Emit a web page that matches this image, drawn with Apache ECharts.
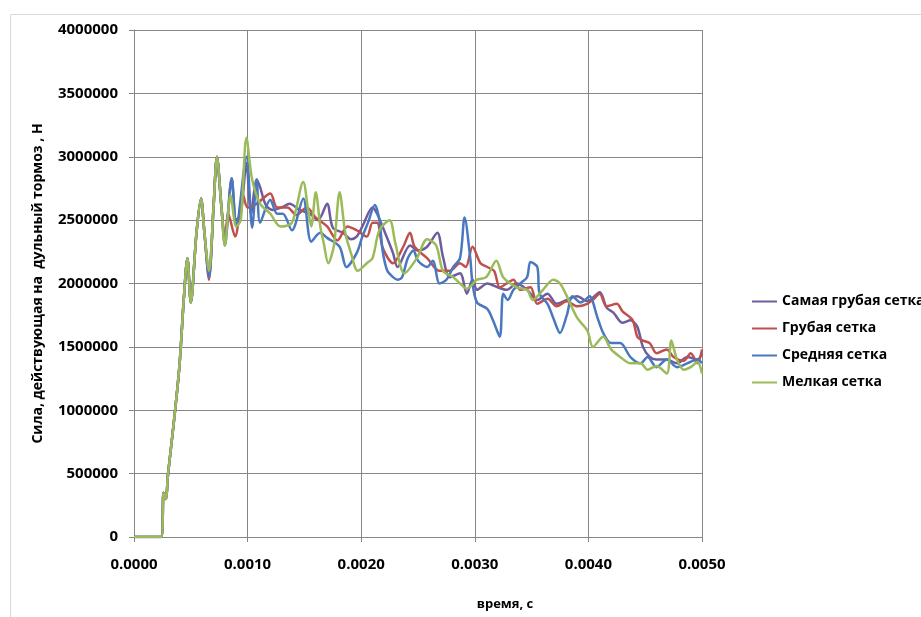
<!DOCTYPE html>
<html>
<head>
<meta charset="utf-8">
<script src="https://cdn.jsdelivr.net/npm/echarts@6/dist/echarts.min.js"></script>
<style>
html,body{margin:0;padding:0;background:#fff;}
#chart{width:921px;height:617px;}
</style>
</head>
<body>
<div id="chart"></div>
<script>
// ---- data (time in s, force in N) ----
var seriesNames = ['Самая грубая сетка', 'Грубая сетка', 'Средняя сетка', 'Мелкая сетка'];
var xTicks = [0, 0.001, 0.002, 0.003, 0.004, 0.005];
var yTicks = [0, 500000, 1000000, 1500000, 2000000, 2500000, 3000000, 3500000, 4000000];

var riseCommon = [
  [0,0],[0.00024,0],[0.00026,350000],[0.00028,300000],[0.0003,500000],[0.00035,900000],
  [0.0004,1350000],[0.00044,1900000],[0.00047,2200000],[0.0005,1850000],[0.00055,2400000],
  [0.00059,2670000],[0.00062,2400000]
];

var samayaGrubaya = [
  [0.00066,2060000],[0.0007,2600000],[0.00073,3000000],[0.00077,2600000],[0.0008,2350000],
  [0.00086,2830000],[0.0009,2500000],[0.00094,2550000],[0.00099,2950000],[0.00103,2550000],
  [0.00108,2820000],[0.00111,2760000],[0.00116,2620000],[0.00122,2580000],[0.0013,2600000],
  [0.00137,2630000],[0.00146,2580000],[0.00155,2550000],[0.00162,2500000],[0.0017,2630000],
  [0.00175,2440000],[0.00184,2400000],[0.00191,2350000],[0.00196,2370000],[0.00201,2450000],
  [0.0021,2600000],[0.00214,2550000],[0.00221,2400000],[0.00228,2240000],[0.00232,2130000],
  [0.00243,2300000],[0.0025,2260000],[0.00258,2290000],[0.00267,2400000],[0.00272,2210000],
  [0.00278,2050000],[0.00287,2080000],[0.00293,1920000],[0.00298,2030000],[0.00302,1950000],
  [0.00311,2000000],[0.0032,1970000],[0.00328,1950000],[0.00337,2000000],[0.00346,1950000],
  [0.00355,1870000],[0.00364,1920000],[0.00372,1840000],[0.00381,1870000],[0.0039,1900000],
  [0.00399,1860000],[0.0041,1930000],[0.00416,1810000],[0.00422,1770000],[0.0043,1690000],
  [0.00437,1710000],[0.00443,1660000],[0.00448,1500000],[0.00454,1420000],[0.0046,1400000],
  [0.00469,1400000],[0.00478,1370000],[0.00487,1420000],[0.00496,1400000],[0.005,1450000]
];

var grubaya = [
  [0.00066,2030000],[0.0007,2600000],[0.00073,3000000],[0.00077,2600000],[0.0008,2330000],
  [0.00083,2550000],[0.00089,2370000],[0.00096,2700000],[0.001,2600000],[0.00108,2630000],
  [0.0012,2710000],[0.00126,2600000],[0.00135,2600000],[0.00143,2540000],[0.00152,2600000],
  [0.0016,2520000],[0.0017,2450000],[0.00179,2340000],[0.00188,2450000],[0.00196,2420000],
  [0.00205,2370000],[0.0021,2480000],[0.00214,2480000],[0.00219,2280000],[0.00228,2160000],
  [0.00237,2290000],[0.00243,2400000],[0.00247,2290000],[0.00258,2200000],[0.00269,2100000],
  [0.00278,2100000],[0.00287,2160000],[0.00292,2130000],[0.00298,2290000],[0.00305,2160000],
  [0.00311,2130000],[0.00317,2100000],[0.00322,1970000],[0.00328,2000000],[0.00334,2030000],
  [0.0034,1950000],[0.00349,1970000],[0.00355,1840000],[0.00364,1880000],[0.00372,1820000],
  [0.00381,1860000],[0.0039,1820000],[0.00399,1840000],[0.00405,1880000],[0.0041,1920000],
  [0.00416,1820000],[0.00425,1840000],[0.0043,1780000],[0.00439,1710000],[0.00443,1580000],
  [0.00448,1550000],[0.00454,1530000],[0.0046,1450000],[0.00469,1480000],[0.00475,1420000],
  [0.00484,1390000],[0.0049,1450000],[0.00496,1370000],[0.005,1480000]
];

var srednyaya = [
  [0.00066,2050000],[0.0007,2600000],[0.00073,3000000],[0.00077,2600000],[0.0008,2300000],
  [0.00086,2830000],[0.0009,2450000],[0.00099,3000000],[0.00104,2440000],[0.00108,2820000],
  [0.00111,2480000],[0.0012,2660000],[0.00126,2550000],[0.00131,2550000],[0.00139,2420000],
  [0.00149,2670000],[0.00156,2330000],[0.00164,2400000],[0.0017,2360000],[0.00181,2290000],
  [0.00187,2130000],[0.00196,2240000],[0.00201,2370000],[0.00206,2480000],[0.00212,2620000],
  [0.00216,2500000],[0.00219,2250000],[0.00223,2100000],[0.00228,2050000],[0.00232,2030000],
  [0.00236,2050000],[0.00241,2200000],[0.00246,2260000],[0.0025,2180000],[0.00258,2130000],
  [0.00263,2180000],[0.00269,2000000],[0.00275,2030000],[0.00281,2130000],[0.00287,2200000],
  [0.00291,2520000],[0.00296,2200000],[0.00298,2000000],[0.00302,1850000],[0.00311,1800000],
  [0.00316,1710000],[0.00322,1580000],[0.00325,1920000],[0.00329,1870000],[0.00334,1950000],
  [0.0034,2000000],[0.00346,2050000],[0.00349,2170000],[0.00355,2130000],[0.00357,1920000],
  [0.00364,1840000],[0.00369,1730000],[0.00375,1610000],[0.00381,1750000],[0.00386,1900000],
  [0.00393,1850000],[0.00397,1870000],[0.00401,1900000],[0.00408,1730000],[0.00413,1610000],
  [0.0042,1530000],[0.00428,1530000],[0.00437,1420000],[0.00446,1370000],[0.00452,1420000],
  [0.0046,1340000],[0.00469,1400000],[0.00478,1340000],[0.00487,1370000],[0.00496,1400000],
  [0.005,1370000]
];

var melkaya = [
  [0.00066,2100000],[0.0007,2600000],[0.00073,3000000],[0.00077,2600000],[0.0008,2300000],
  [0.00085,2700000],[0.0009,2450000],[0.00094,2500000],[0.00099,3150000],[0.00104,2820000],
  [0.00111,2630000],[0.0012,2550000],[0.00129,2450000],[0.00139,2480000],[0.00149,2800000],
  [0.00153,2600000],[0.00156,2450000],[0.0016,2720000],[0.00164,2450000],[0.00167,2320000],
  [0.00171,2160000],[0.00176,2300000],[0.00181,2720000],[0.00186,2400000],[0.00191,2240000],
  [0.00197,2100000],[0.00205,2160000],[0.0021,2200000],[0.00216,2420000],[0.00225,2500000],
  [0.0023,2320000],[0.00238,2080000],[0.00249,2200000],[0.00258,2350000],[0.00266,2300000],
  [0.00272,2100000],[0.00281,2050000],[0.00287,2000000],[0.00293,1960000],[0.00302,2030000],
  [0.0031,2050000],[0.00319,2180000],[0.00325,2050000],[0.00337,1970000],[0.00346,1950000],
  [0.00351,1870000],[0.0036,1950000],[0.00369,2030000],[0.00375,2000000],[0.00381,1900000],
  [0.0039,1730000],[0.00399,1630000],[0.00404,1500000],[0.00413,1580000],[0.0042,1480000],
  [0.00428,1420000],[0.00437,1370000],[0.00446,1370000],[0.00452,1320000],[0.0046,1350000],
  [0.00469,1290000],[0.00473,1550000],[0.00478,1400000],[0.00484,1320000],[0.0049,1340000],
  [0.00496,1380000],[0.005,1290000]
];

var seriesData = [samayaGrubaya, grubaya, srednyaya, melkaya].map(function (d) {
  return riseCommon.concat(d);
});
var colors = ['#6E5C9E', '#C0504D', '#4A78C0', '#9BBB59'];

var FONT = '"Open Sans", "DejaVu Sans", sans-serif';
var chart = echarts.init(document.getElementById('chart'), null, {renderer: 'canvas'});
chart.setOption({
  animation: false,
  backgroundColor: '#ffffff',
  color: colors,
  graphic: [{
    type: 'rect', left: 8, top: 12, silent: true,
    shape: {width: 1000, height: 700},
    style: {fill: 'none', stroke: '#D9D9D9', lineWidth: 1}
  }],
  grid: {left: 134, right: 219, top: 30, bottom: 80, containLabel: false},
  legend: {
    orient: 'vertical', left: 747, top: 288,
    itemWidth: 25, itemHeight: 2, itemGap: 10,
    icon: 'rect',
    textStyle: {fontFamily: FONT, fontWeight: 'bold', fontSize: 14, color: '#000', lineHeight: 17},
    data: seriesNames
  },
  xAxis: {
    type: 'value', min: 0, max: 0.005, interval: 0.001,
    name: 'время, с', nameLocation: 'middle', nameGap: 61,
    nameTextStyle: {fontFamily: FONT, fontWeight: 'bold', fontSize: 13, color: '#000', padding: [0, 0, 0, 174]},
    axisLine: {show: true, lineStyle: {color: '#868686', width: 1}},
    axisTick: {show: true, length: 5, lineStyle: {color: '#868686'}},
    splitLine: {show: true, lineStyle: {color: '#868686', width: 1}},
    axisLabel: {
      margin: 20, fontFamily: FONT, fontWeight: 'bold', fontSize: 15, color: '#000',
      formatter: function (v) { return v.toFixed(4); }
    }
  },
  yAxis: {
    type: 'value', min: 0, max: 4000000, interval: 500000,
    name: 'Сила, действующая на  дульный тормоз , Н', nameLocation: 'middle', nameGap: 89,
    nameTextStyle: {fontFamily: FONT, fontWeight: 'bold', fontSize: 14, color: '#000'},
    axisLine: {show: true, lineStyle: {color: '#868686', width: 1}},
    axisTick: {show: true, length: 5, lineStyle: {color: '#868686'}},
    splitLine: {show: true, lineStyle: {color: '#868686', width: 1}},
    axisLabel: {
      margin: 16, fontFamily: FONT, fontWeight: 'bold', fontSize: 15, color: '#000',
      formatter: function (v) { return String(Math.round(v)); }
    }
  },
  series: seriesNames.map(function (n, i) {
    return {
      name: n, type: 'line', data: seriesData[i],
      showSymbol: false, smooth: 0.3,
      lineStyle: {width: 2.5, color: colors[i]},
      itemStyle: {color: colors[i]}
    };
  })
});
</script>
</body>
</html>
